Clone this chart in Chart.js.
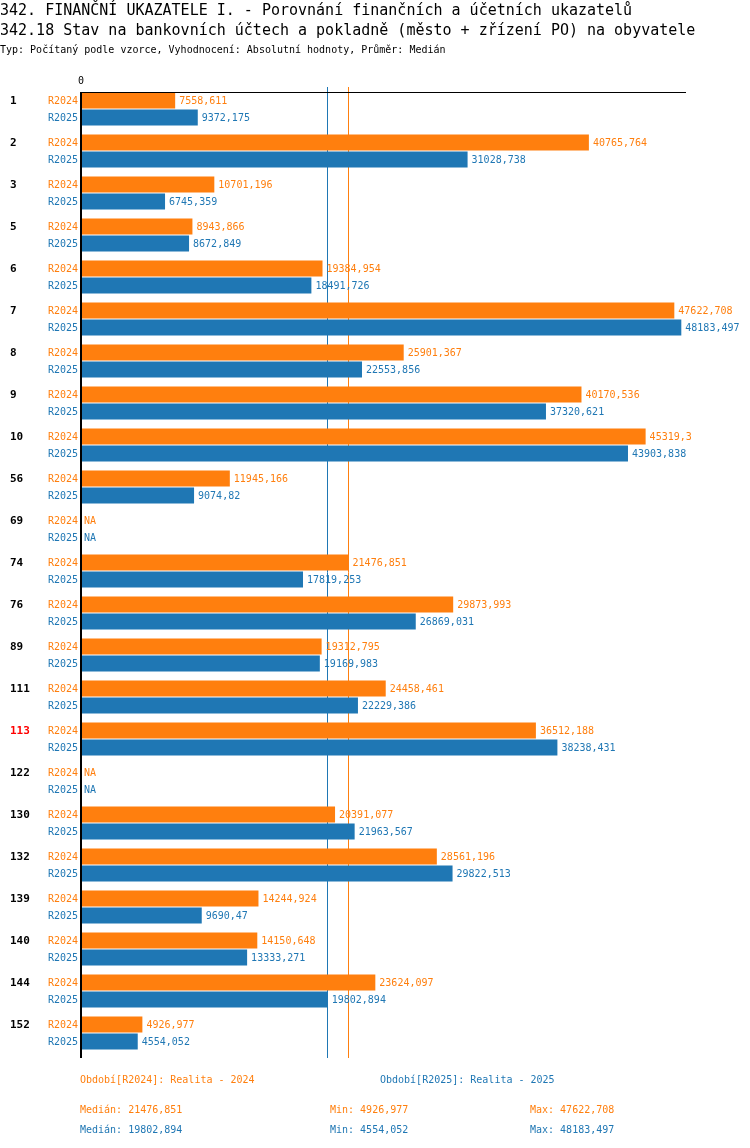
<!DOCTYPE html>
<html>
<head>
<meta charset="utf-8">
<script src="https://cdn.jsdelivr.net/npm/chart.js@4.4.1/dist/chart.umd.min.js"></script>
<style>
    body { margin: 0; background: #fff; font-family: "DejaVu Sans Mono", monospace; }
    #wrap { position: relative; width: 750px; height: 1148px; }
    #chart { position: absolute; left: 0; top: 0; }
    .txt { position: absolute; white-space: pre; }
    .t1 { font-size: 15px; line-height: 20px; color: #000; left: 0; }
    .t3 { font-size: 10px; line-height: 14px; color: #000; left: 0; }
    .f { font-size: 10px; line-height: 14px; }
    .c24 { color: #ff7f0e; }
    .c25 { color: #1f77b4; }
</style>
</head>
<body>
<div id="wrap">
    <canvas id="chart" width="750" height="1148"></canvas>
    <div class="txt t1" style="top:0">342. FINANČNÍ UKAZATELE I. - Porovnání finančních a účetních ukazatelů</div>
    <div class="txt t1" style="top:20px">342.18 Stav na bankovních účtech a pokladně (město + zřízení PO) na obyvatele</div>
    <div class="txt t3" style="top:43px">Typ: Počítaný podle vzorce, Vyhodnocení: Absolutní hodnoty, Průměr: Medián</div>

    <div class="txt f c24" style="top:1073px;left:80px">Období[R2024]: Realita - 2024</div>
    <div class="txt f c25" style="top:1073px;left:380px">Období[R2025]: Realita - 2025</div>
    <div class="txt f c24" id="med24" style="top:1103px;left:80px"></div>
    <div class="txt f c24" id="min24" style="top:1103px;left:330px"></div>
    <div class="txt f c24" id="max24" style="top:1103px;left:530px"></div>
    <div class="txt f c25" id="med25" style="top:1123px;left:80px"></div>
    <div class="txt f c25" id="min25" style="top:1123px;left:330px"></div>
    <div class="txt f c25" id="max25" style="top:1123px;left:530px"></div>
</div>
<script>
// data
var categories = ["1", "2", "3", "5", "6", "7", "8", "9", "10", "56", "69", "74",
    "76", "89", "111", "113", "122", "130", "132", "139", "140", "144", "152"];
var r2024 = [7558.611, 40765.764, 10701.196, 8943.866, 19384.954, 47622.708, 25901.367,
    40170.536, 45319.3, 11945.166, null, 21476.851, 29873.993, 19312.795, 24458.461,
    36512.188, null, 20391.077, 28561.196, 14244.924, 14150.648, 23624.097, 4926.977];
var r2025 = [9372.175, 31028.738, 6745.359, 8672.849, 18491.726, 48183.497, 22553.856,
    37320.621, 43903.838, 9074.82, null, 17819.253, 26869.031, 19169.983, 22229.386,
    38238.431, null, 21963.567, 29822.513, 9690.47, 13333.271, 19802.894, 4554.052];
var seriesNames = ["R2024", "R2025"];
var highlighted = "113";

var orange = "#ff7f0e";
var blue = "#1f77b4";
var font = '"DejaVu Sans Mono", monospace';

function fmt(v) {
    return String(v).replace(".", ",");
}
function stats(arr) {
    var s = arr.filter(function (v) { return v !== null; }).sort(function (a, b) { return a - b; });
    var n = s.length;
    var med = n % 2 ? s[(n - 1) / 2] : (s[n / 2 - 1] + s[n / 2]) / 2;
    return { med: med, min: s[0], max: s[n - 1] };
}
var s24 = stats(r2024);
var s25 = stats(r2025);

document.getElementById("med24").textContent = "Medián: " + fmt(s24.med);
document.getElementById("min24").textContent = "Min: " + fmt(s24.min);
document.getElementById("max24").textContent = "Max: " + fmt(s24.max);
document.getElementById("med25").textContent = "Medián: " + fmt(s25.med);
document.getElementById("min25").textContent = "Min: " + fmt(s25.min);
document.getElementById("max25").textContent = "Max: " + fmt(s25.max);

// median lines behind bars
var medianLines = {
    id: "medianLines",
    beforeDatasetsDraw: function (chart) {
        var ctx = chart.ctx;
        var x = chart.scales.x;
        ctx.save();
        ctx.lineWidth = 1;
        [[s25.med, blue], [s24.med, orange]].forEach(function (m) {
            var px = Math.round(x.getPixelForValue(m[0])) - 0.5;
            ctx.strokeStyle = m[1];
            ctx.beginPath();
            ctx.moveTo(px, 87);
            ctx.lineTo(px, 1058);
            ctx.stroke();
        });
        ctx.restore();
    }
};

// axes + labels on top
var labelsPlugin = {
    id: "labelsPlugin",
    afterDatasetsDraw: function (chart) {
        var ctx = chart.ctx;
        var x = chart.scales.x;
        var y = chart.scales.y;
        var area = chart.chartArea;
        var x0 = x.getPixelForValue(0);
        ctx.save();

        // axis lines
        ctx.fillStyle = "#000";
        ctx.fillRect(80, 92, area.right - 80, 1);
        ctx.fillRect(80, 92, 2, 1058 - 92);

        ctx.font = "10px " + font;
        ctx.textBaseline = "middle";
        ctx.textAlign = "center";
        ctx.fillText("0", 81, 81);

        var sets = [r2024, r2025];
        var colors = [orange, blue];
        categories.forEach(function (cat, i) {
            var c = y.getPixelForValue(i);
            var rows = [c - 8.5, c + 8.5];

            ctx.font = "bold 11px " + font;
            ctx.textAlign = "left";
            ctx.fillStyle = cat === highlighted ? "#ff0000" : "#000";
            ctx.fillText(cat, 10, rows[0] + 0.5);

            for (var k = 0; k < 2; k++) {
                var v = sets[k][i];
                ctx.font = "10px " + font;
                ctx.fillStyle = colors[k];
                ctx.textAlign = "right";
                ctx.fillText(seriesNames[k], 78, rows[k] + 0.5);
                ctx.textAlign = "left";
                if (v === null) {
                    ctx.fillText("NA", 84, rows[k] + 0.5);
                } else {
                    ctx.fillText(fmt(v), x.getPixelForValue(v) + 4, rows[k] + 0.5);
                }
            }
        });
        ctx.restore();
    }
};

new Chart(document.getElementById("chart"), {
    type: "bar",
    data: {
        labels: categories,
        datasets: [{
            label: seriesNames[0],
            data: r2024,
            backgroundColor: orange,
            barPercentage: 16 / 17,
            categoryPercentage: 34 / 42
        }, {
            label: seriesNames[1],
            data: r2025,
            backgroundColor: blue,
            barPercentage: 16 / 17,
            categoryPercentage: 34 / 42
        }]
    },
    options: {
        indexAxis: "y",
        responsive: false,
        animation: false,
        devicePixelRatio: 1,
        layout: {
            padding: { left: 81, right: 64, top: 88, bottom: 94 }
        },
        scales: {
            x: { display: false, min: 0, max: 48560 },
            y: { display: false }
        },
        plugins: {
            legend: { display: false },
            tooltip: { enabled: false }
        }
    },
    plugins: [medianLines, labelsPlugin]
});
</script>
</body>
</html>
